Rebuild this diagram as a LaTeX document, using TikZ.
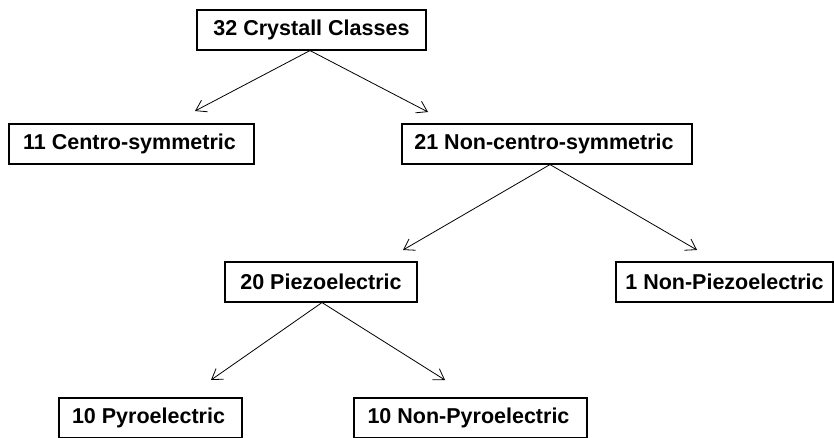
\documentclass[tikz,border=0pt]{standalone}
\usepackage{fontspec}
\setmainfont{Liberation Sans}
\usetikzlibrary{arrows.meta}
\begin{document}
\begin{tikzpicture}[x=1pt,y=-1pt,
  cls/.style={draw, line width=1.1pt, rectangle, inner sep=0pt, minimum height=40pt,
    font=\fontsize{21.5}{25}\selectfont\bfseries},
  conn/.style={line width=0.8pt, -{Straight Barb[length=10pt,width=13pt]}}]
\useasboundingbox (0,0) rectangle (834,437);
\clip (0,0) rectangle (834,437);
\node[cls, minimum width=229pt] (A) at (311.5,30) {32 Crystall Classes};
\node[cls, minimum width=245pt] (B) at (131.5,144) {\hspace{-4pt}11 Centro-symmetric};
\node[cls, minimum width=290pt] (C) at (547,144) {\hspace{-6pt}21 Non-centro-symmetric};
\node[cls, minimum width=192pt] (D) at (321,282) {20 Piezoelectric};
\node[cls, minimum width=217pt] (E) at (724.5,282) {1 Non-Piezoelectric};
\node[cls, minimum width=183pt] (F) at (150.5,418) {\hspace{-4pt}10 Pyroelectric};
\node[cls, minimum width=233pt] (G) at (470.5,418) {\hspace{-4pt}10 Non-Pyroelectric};
\coordinate (tAB) at (195,111);
\coordinate (tAC) at (428,112);
\coordinate (tCD) at (403,250);
\coordinate (tCE) at (697,250);
\coordinate (tDF) at (211,380);
\coordinate (tDG) at (445,380);
\draw[conn] ([xshift=-1.5pt]A.south) -- (tAB);
\draw[conn] ([xshift=-1.5pt]A.south) -- (tAC);
\draw[conn] ([xshift=3pt]C.south) -- (tCD);
\draw[conn] ([xshift=3pt]C.south) -- (tCE);
\draw[conn] ([xshift=1pt]D.south) -- (tDF);
\draw[conn] ([xshift=1pt]D.south) -- (tDG);
\end{tikzpicture}
\end{document}
